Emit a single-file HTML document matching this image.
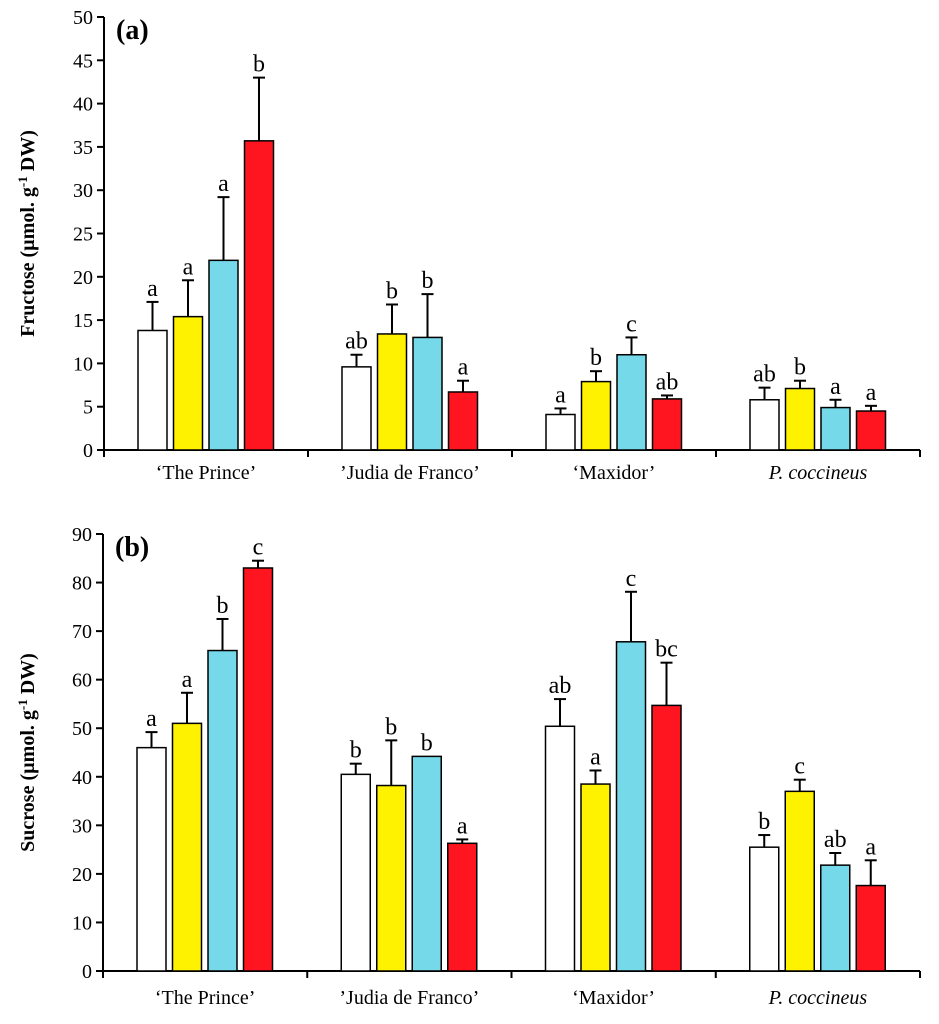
<!DOCTYPE html>
<html><head><meta charset="utf-8"><style>
body{margin:0;background:#fff}
svg{display:block;font-family:"Liberation Serif",serif}
</style></head><body>
<svg id="chart" width="939" height="1024" viewBox="0 0 939 1024" xmlns="http://www.w3.org/2000/svg"></svg>
<script>
const categories = ["\u2018The Prince\u2019", "\u2019Judia de Franco\u2019", "\u2018Maxidor\u2019", "P. coccineus"];
const colors = ["#ffffff", "#fff200", "#76d9ea", "#ff1520"];
const fructoseValues = [[13.8,15.4,21.9,35.7],[9.6,13.4,13.0,6.7],[4.1,7.9,11.0,5.9],[5.8,7.1,4.9,4.5]];
const fructoseErrors = [[3.3,4.2,7.3,7.3],[1.4,3.4,5.0,1.3],[0.7,1.2,2.0,0.4],[1.4,0.9,0.9,0.6]];
const fructoseLetters = [["a","a","a","b"],["ab","b","b","a"],["a","b","c","ab"],["ab","b","a","a"]];
const fructoseTicks = [0,5,10,15,20,25,30,35,40,45,50];
const sucroseValues = [[46,51,66,83],[40.5,38.2,44.2,26.3],[50.4,38.5,67.8,54.7],[25.5,37,21.8,17.6]];
const sucroseErrors = [[3.2,6.3,6.5,1.5],[2.2,9.3,0,0.8],[5.6,2.8,10.3,8.8],[2.5,2.4,2.5,5.2]];
const sucroseLetters = [["a","a","b","c"],["b","b","b","a"],["ab","a","c","bc"],["b","c","ab","a"]];
const sucroseTicks = [0,10,20,30,40,50,60,70,80,90];

const svg = document.getElementById('chart');
const NS = "http://www.w3.org/2000/svg";
function mk(tag, attrs, parent){const e=document.createElementNS(NS,tag);for(const k in attrs)e.setAttribute(k,attrs[k]);(parent||svg).appendChild(e);return e;}

function panel(cfg){
  const g = mk('g',{});
  
  
  const y = v => cfg.y0 - (v/cfg.max)*(cfg.y0-cfg.yTop);
  const gw = (cfg.xEnd - cfg.x0)/4;
  const x = (gi,bi) => cfg.x0 + gi*gw + 34 + bi*35.5;
  const ya = mk('line',{x1:cfg.x0,y1:cfg.yTop,x2:cfg.x0,y2:cfg.y0,stroke:'#000','stroke-width':2},g);
  
  
  const xa = mk('line',{x1:cfg.x0,y1:cfg.y0,x2:cfg.xEnd,y2:cfg.y0,stroke:'#000','stroke-width':2},g);
  
  
  cfg.ticks.forEach(t=>{
    mk('line',{x1:cfg.x0-7,y1:y(t),x2:cfg.x0,y2:y(t),stroke:'#000','stroke-width':2},g);
    const tl = mk('text',{x:cfg.x0-11,y:y(t)+7,'text-anchor':'end','font-size':20},g);
    tl.textContent = t;
    
    
  });
  for(let i=0;i<=4;i++){
    mk('line',{x1:cfg.x0+i*gw,y1:cfg.y0,x2:cfg.x0+i*gw,y2:cfg.y0+7,stroke:'#000','stroke-width':2},g);
  }
  categories.forEach((c,gi)=>{
    const t = mk('text',{x:cfg.x0+gi*gw+gw/2,y:cfg.catY,'text-anchor':'middle','font-size':20,'font-style':gi===3?'italic':'normal'},g);
    t.textContent = c;
    
    
    cfg.values[gi].forEach((v,bi)=>{
      const bx = x(gi,bi), top = y(v), et = y(v+cfg.errors[gi][bi]), cx = bx+14.5;
      if(cfg.errors[gi][bi]>0){
        mk('line',{x1:cx,y1:top,x2:cx,y2:et,stroke:'#000','stroke-width':2},g);
        mk('line',{x1:cx-6,y1:et,x2:cx+6,y2:et,stroke:'#000','stroke-width':2},g);
      }
      const r = mk('rect',{x:bx,y:top,width:29,height:cfg.y0-top,fill:colors[bi],stroke:'#000','stroke-width':1.5},g);
      
      
      const l = mk('text',{x:cx,y:et-6,'text-anchor':'middle','font-size':24},g);
      l.textContent = cfg.letters[gi][bi];
      
      
    });
  });
  const pl = mk('text',{x:cfg.x0+12,y:cfg.yTop+22,'font-size':28,'font-weight':'bold'},g);
  pl.textContent = cfg.label;
  
  
  const yt = mk('text',{x:0,y:0,'text-anchor':'middle','font-size':20,'font-weight':'bold',transform:`translate(34,${(cfg.y0+cfg.yTop)/2}) rotate(-90)`},g);
  yt.innerHTML = cfg.title + ' (\u00b5mol. g<tspan dy="-7" font-size="13">-1</tspan><tspan dy="7"> DW)</tspan>';
  
  
}
panel({name:'fructose-panel',label:'(a)',title:'Fructose',x0:104,xEnd:920,y0:450,yTop:17,max:50,ticks:fructoseTicks,values:fructoseValues,errors:fructoseErrors,letters:fructoseLetters,catY:479});
panel({name:'sucrose-panel',label:'(b)',title:'Sucrose',x0:103,xEnd:920,y0:971,yTop:534,max:90,ticks:sucroseTicks,values:sucroseValues,errors:sucroseErrors,letters:sucroseLetters,catY:1004});
</script>
</body></html>
